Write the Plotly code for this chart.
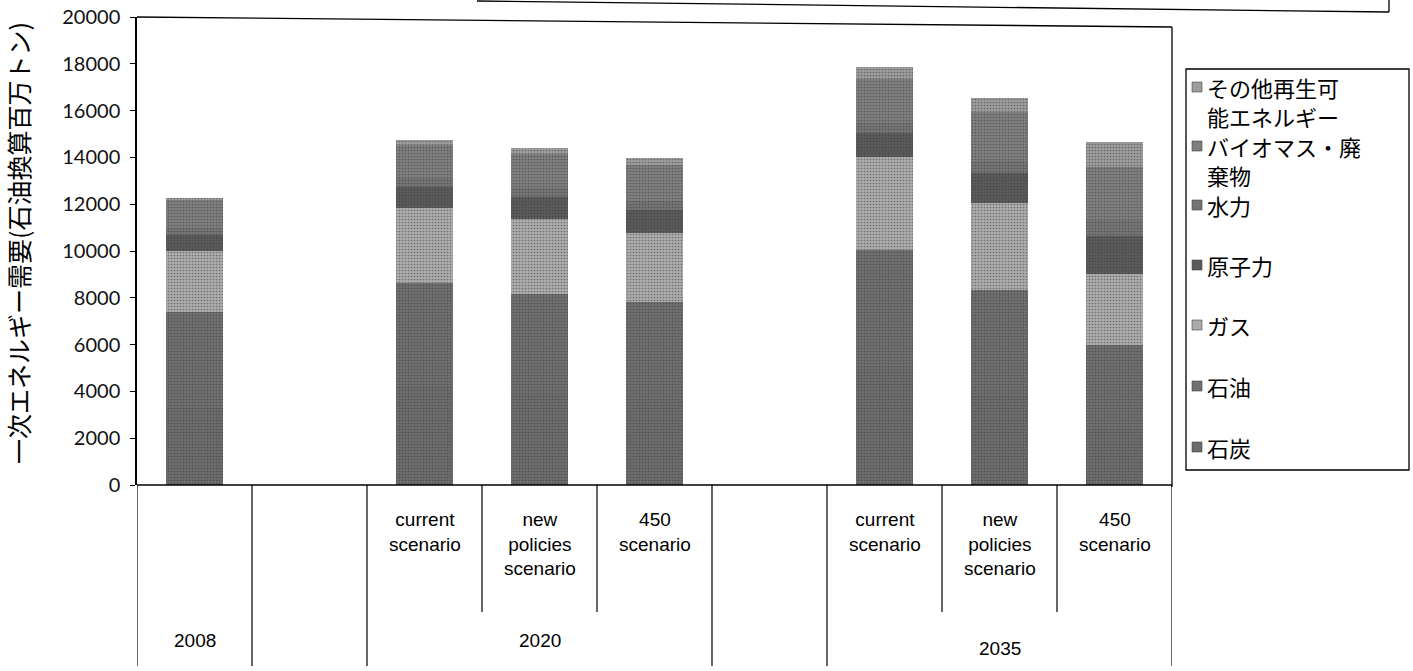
import plotly.graph_objects as go

# Slot positions on the category axis (blank slots separate the year groups)
slot_pos = [0, 2, 3, 4, 6, 7, 8]
n_slots = 9

scenario_labels = ["", "", "current<br>scenario", "new<br>policies<br>scenario", "450<br>scenario",
                   "", "current<br>scenario", "new<br>policies<br>scenario", "450<br>scenario"]
year_groups = [("2008", 0, 0, 640), ("2020", 2, 4, 640), ("2035", 6, 8, 648)]

# Primary energy demand (Mtoe) by fuel, one value per bar
coal    = [3300, 4200, 3850, 3650, 5100, 3800, 2400]
oil     = [4100, 4450, 4300, 4150, 4950, 4550, 3600]
gas     = [2600, 3200, 3200, 2950, 3950, 3700, 3000]
nuclear = [700,  900,  950,  1000, 1050, 1300, 1650]
hydro   = [280,  360,  380,  400,  430,  480,  670]
biomass = [1210, 1420, 1470, 1520, 1850, 2100, 2250]
other   = [80,   220,  250,  310,  520,  620,  1100]

series = [
    ("石炭", coal, "#6c6c6c"),
    ("石油", oil, "#6f6f6f"),
    ("ガス", gas, "#ababab"),
    ("原子力", nuclear, "#5a5a5a"),
    ("水力", hydro, "#747474"),
    ("バイオマス・廃棄物", biomass, "#7e7e7e"),
    ("その他再生可能エネルギー", other, "#9c9c9c"),
]

y_ticks = list(range(0, 20001, 2000))

# plot area geometry in pixels
W, H = 1413, 671
L, R, T, B = 137, 1172, 17, 485


def px_x(px):
    return (px - L) / (R - L)


def px_y(py):
    return (B - py) / (B - T)


fig = go.Figure()
for name, vals, col in series:
    fig.add_trace(go.Bar(
        x=slot_pos, y=vals, name=name, width=0.5,
        marker=dict(color=col, line=dict(width=0),
                    pattern=dict(shape=".", size=3, solidity=0.25,
                                 fgcolor="#333333", bgcolor=col)),
        showlegend=False,
    ))

fig.update_layout(
    barmode="stack",
    width=W, height=H,
    margin=dict(l=L, r=W - R, t=T, b=H - B, autoexpand=False),
    paper_bgcolor="white", plot_bgcolor="white",
    font=dict(family="Liberation Sans, Arial, sans-serif", color="black"),
    xaxis=dict(range=[-0.5, n_slots - 0.5], showticklabels=False, showgrid=False,
               zeroline=False, showline=False, ticks="", automargin=False),
    yaxis=dict(range=[0, 20000], tickvals=y_ticks, tickformat="d", ticks="outside", ticklen=5,
               tickcolor="black", showgrid=False, zeroline=False, automargin=False,
               showline=True, linecolor="black", linewidth=1.5, ticklabelstandoff=6,
               tickfont=dict(family="Lato, Open Sans, sans-serif", size=20, color="#111")),
)

shapes = []
line_style = dict(color="black", width=1.3)

# category axis baseline and plot frame
shapes.append(dict(type="line", xref="paper", yref="paper", x0=0, x1=1, y0=0, y1=0, line=line_style))
shapes.append(dict(type="line", xref="paper", yref="paper", x0=0, x1=1,
                   y0=px_y(17), y1=px_y(27), line=line_style))
shapes.append(dict(type="line", xref="paper", yref="paper", x0=1, x1=1,
                   y0=px_y(27), y1=px_y(487), line=line_style))

# header box outline above the plot
shapes.append(dict(type="line", xref="paper", yref="paper", x0=px_x(477), x1=px_x(1389),
                   y0=px_y(1), y1=px_y(12), line=line_style))
shapes.append(dict(type="line", xref="paper", yref="paper", x0=px_x(1389), x1=px_x(1389),
                   y0=px_y(-2), y1=px_y(12), line=line_style))

# category dividers below the axis: full length between year groups, shorter between scenarios
full_div = [-0.5, 0.5, 1.5, 4.5, 5.5, 8.5]
short_div = [2.5, 3.5, 6.5, 7.5]
for xv in full_div:
    shapes.append(dict(type="line", xref="x", yref="paper", x0=xv, x1=xv,
                       y0=0, y1=px_y(666), line=dict(color="black", width=1.2)))
for xv in short_div:
    shapes.append(dict(type="line", xref="x", yref="paper", x0=xv, x1=xv,
                       y0=0, y1=px_y(612), line=dict(color="black", width=1.2)))

annotations = []
for i, lab in enumerate(scenario_labels):
    if lab:
        annotations.append(dict(x=i, y=px_y(507), xref="x", yref="paper", text=lab,
                                showarrow=False, yanchor="top", align="center",
                                font=dict(size=19, family="Liberation Sans, Arial")))
for lab, a, b, ypx in year_groups:
    annotations.append(dict(x=(a + b) / 2, y=px_y(ypx), xref="x", yref="paper", text=lab,
                            showarrow=False, yanchor="middle",
                            font=dict(size=19, family="Liberation Sans, Arial")))

# y-axis title
annotations.append(dict(x=px_x(18), y=px_y(243), xref="paper", yref="paper",
                        text="一次エネルギー需要(石油換算百万トン)", textangle=-90,
                        showarrow=False, xanchor="center", yanchor="middle",
                        font=dict(size=25, family="Noto Sans CJK JP")))

# legend box with entries (top entry = top of the stack)
lg_left, lg_right, lg_top, lg_bottom = 1186, 1409, 69, 470
shapes.append(dict(type="rect", xref="paper", yref="paper",
                   x0=px_x(lg_left), x1=px_x(lg_right), y0=px_y(lg_bottom), y1=px_y(lg_top),
                   line=dict(color="black", width=1.3), fillcolor="white", layer="below"))
# (text lines, swatch colour, centre of each text line in px)
legend_rows = [
    (["その他再生可", "能エネルギー"], series[6][2], [87, 116]),
    (["バイオマス・廃", "棄物"], series[5][2], [146, 175]),
    (["水力"], series[4][2], [205]),
    (["原子力"], series[3][2], [265]),
    (["ガス"], series[2][2], [325]),
    (["石油"], series[1][2], [386]),
    (["石炭"], series[0][2], [447]),
]
for lines, col, ys in legend_rows:
    yc = ys[0]
    shapes.append(dict(type="rect", xref="paper", yref="paper",
                       x0=px_x(1192), x1=px_x(1202), y0=px_y(yc + 5), y1=px_y(yc - 5),
                       line=dict(color="#444", width=0.6), fillcolor=col))
    for txt, ypx in zip(lines, ys):
        annotations.append(dict(x=px_x(1205), y=px_y(ypx), xref="paper", yref="paper",
                                text=txt, showarrow=False, xanchor="left", yanchor="middle",
                                align="left",
                                font=dict(size=22, family="Noto Sans CJK JP")))

fig.update_layout(shapes=shapes, annotations=annotations)
fig.write_html("out.html")
